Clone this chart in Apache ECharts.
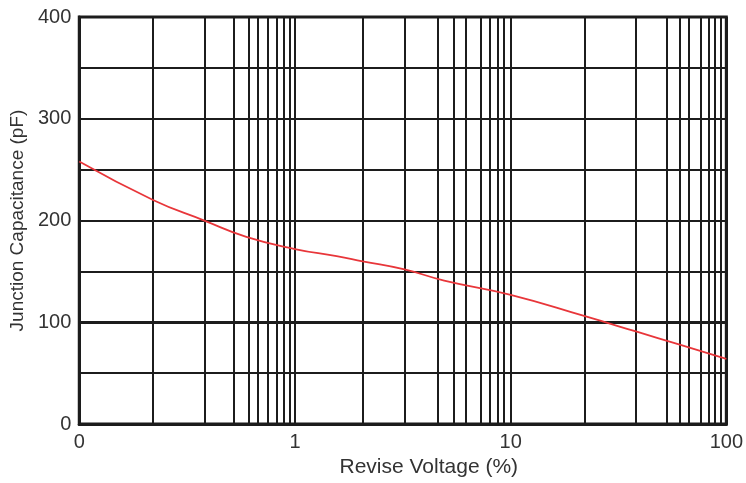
<!DOCTYPE html>
<html>
<head>
<meta charset="utf-8">
<script src="https://cdn.jsdelivr.net/npm/echarts@6/dist/echarts.min.js"></script>
<style>
html,body{margin:0;padding:0;background:#fff;}
#chart{width:746px;height:483px;}
</style>
</head>
<body>
<div id="chart"></div>
<script>
// Curve: reverse voltage (%) vs junction capacitance (pF)
var voltage = [0.1, 0.221, 0.38, 0.595, 1.0, 1.56, 2.06, 3.22, 4.92, 10, 22.1, 38.1, 60.8, 100];
var capacitance = [258, 220, 200, 184, 172, 165, 160, 152, 141, 127, 106, 91, 78, 64];

var xGridValues = [0.221, 0.38, 0.521, 0.607, 0.672, 0.752, 0.824, 0.885, 0.951,
                   2.06, 3.22, 4.6, 5.45, 6.18, 7.3, 8.0, 8.7, 9.3,
                   22.1, 38.1, 52.8, 60.8, 67.3, 76.0, 83.3, 88.5, 94.2];
var xTickValues = [0.1, 1, 10, 100];
var xTickLabels = ['0', '1', '10', '100'];
var yTickValues = [0, 100, 200, 300, 400];
var yTickLabels = ['0', '100', '200', '300', '400'];
var boldYLines = [100];

var chart = echarts.init(document.getElementById('chart'), null, {renderer: 'canvas'});
var gridColor = '#1c1c1c';
var textColor = '#333';
var fontFamily = '"Liberation Sans", Arial, sans-serif';

var series = voltage.map(function (v, i) { return [v, capacitance[i]]; });

var markData = xGridValues.map(function (v) { return {xAxis: v}; });
boldYLines.forEach(function (v) {
  markData.push({yAxis: v, lineStyle: {width: 3.2, color: gridColor, type: 'solid'}});
});

chart.setOption({
  animation: false,
  backgroundColor: '#fff',
  grid: {left: 75, right: 17, top: 17, bottom: 55, show: true, borderColor: gridColor, borderWidth: 3, containLabel: false},
  xAxis: {
    type: 'log',
    logBase: 10,
    min: 0.1,
    max: 100,
    name: 'Revise Voltage (%)',
    nameLocation: 'middle',
    nameGap: 29,
    nameTextStyle: {fontSize: 21, color: textColor, fontFamily: fontFamily, padding: [0, 0, 0, 52]},
    axisLine: {show: true, lineStyle: {color: gridColor, width: 3}},
    axisTick: {show: false},
    minorTick: {show: false},
    splitLine: {show: true, lineStyle: {color: gridColor, width: 2}},
    axisLabel: {
      fontSize: 20, color: textColor, fontFamily: fontFamily, margin: 8,
      formatter: function (v) {
        for (var i = 0; i < xTickValues.length; i++) {
          if (Math.abs(Math.log10(v) - Math.log10(xTickValues[i])) < 0.01) return xTickLabels[i];
        }
        return '';
      }
    }
  },
  yAxis: {
    type: 'value',
    min: 0,
    max: 400,
    interval: 50,
    name: 'Junction Capacitance (pF)',
    nameLocation: 'middle',
    nameGap: 50,
    nameTextStyle: {fontSize: 19, color: textColor, fontFamily: fontFamily},
    axisLine: {show: true, lineStyle: {color: gridColor, width: 3}},
    axisTick: {show: false},
    splitLine: {show: true, lineStyle: {color: gridColor, width: 2}},
    axisLabel: {
      fontSize: 20, color: textColor, fontFamily: fontFamily, margin: 8,
      formatter: function (v) {
        var i = yTickValues.indexOf(v);
        return i >= 0 ? yTickLabels[i] : '';
      }
    }
  },
  series: [
    {
      type: 'line',
      data: [],
      z: 1,
      silent: true,
      markLine: {
        silent: true,
        symbol: ['none', 'none'],
        label: {show: false},
        lineStyle: {color: gridColor, width: 2, type: 'solid'},
        emphasis: {disabled: true},
        data: markData
      }
    },
    {
      type: 'line',
      data: series,
      z: 5,
      smooth: 0.5,
      showSymbol: false,
      symbol: 'none',
      lineStyle: {color: '#e8363a', width: 1.8}
    }
  ]
});
</script>
</body>
</html>
